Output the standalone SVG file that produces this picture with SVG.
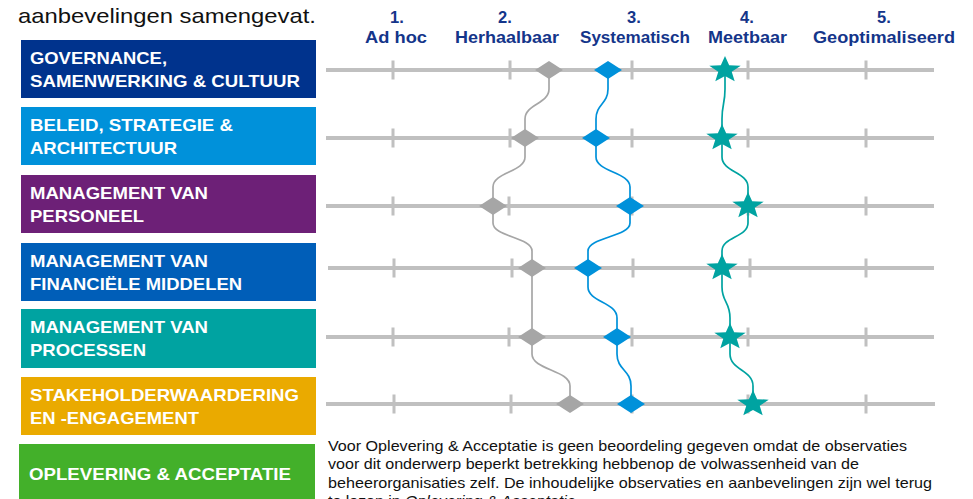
<svg xmlns="http://www.w3.org/2000/svg" xmlns:xlink="http://www.w3.org/1999/xlink" width="973" height="499" viewBox="0 0 973 499">
<style>
.title{font-family:"Liberation Sans",Arial,sans-serif;font-size:21px;fill:#111}
.hdr{font-family:"Liberation Sans",Arial,sans-serif;font-size:16.5px;font-weight:bold;fill:#14358A}
.num{font-family:"Liberation Sans",Arial,sans-serif;font-size:16.5px;font-weight:bold;fill:#14358A;text-anchor:middle}
.lbl{font-family:"Liberation Sans",Arial,sans-serif;font-size:17px;font-weight:bold;fill:#fff}
.para{font-family:"Liberation Sans",Arial,sans-serif;font-size:15px;fill:#111}
.row{stroke:#C0C0C0;stroke-width:4;fill:none}
.tick{stroke:#C0C0C0;stroke-width:3;fill:none}
.cg{stroke:#A6A6A6;stroke-width:1.7;fill:none}
.cb{stroke:#0091DA;stroke-width:1.7;fill:none}
.ct{stroke:#00A3A1;stroke-width:1.7;fill:none}
.dg{fill:#A6A6A6}
.db{fill:#0091DA}
.st{fill:#00A3A1}
</style>
<defs>
<path id="dia" d="M-14,0 L0,-9 L14,0 L0,9 Z"/>
<polygon id="star" points="0,-14 4.16,-4.85 15.71,-4.33 6.73,1.85 9.71,11.33 0,6 -9.71,11.33 -6.73,1.85 -15.71,-4.33 -4.16,-4.85"/>
</defs>

<text class="title" x="18" y="23" textLength="298" lengthAdjust="spacingAndGlyphs">aanbevelingen samengevat.</text>

<g id="header">
<text class="num" x="397" y="22.5">1.</text>
<text class="num" x="505" y="22.5">2.</text>
<text class="num" x="634" y="22.5">3.</text>
<text class="num" x="747" y="22.5">4.</text>
<text class="num" x="884" y="22.5">5.</text>
<text class="hdr" x="365" y="43" textLength="62" lengthAdjust="spacingAndGlyphs">Ad hoc</text>
<text class="hdr" x="455" y="43" textLength="104" lengthAdjust="spacingAndGlyphs">Herhaalbaar</text>
<text class="hdr" x="580" y="43" textLength="110" lengthAdjust="spacingAndGlyphs">Systematisch</text>
<text class="hdr" x="708" y="43" textLength="79" lengthAdjust="spacingAndGlyphs">Meetbaar</text>
<text class="hdr" x="813" y="43" textLength="142" lengthAdjust="spacingAndGlyphs">Geoptimaliseerd</text>
</g>

<g id="box-governance">
<rect x="21" y="40" width="295" height="58" fill="#00338D"/>
<text class="lbl" x="30" y="64" textLength="137" lengthAdjust="spacingAndGlyphs">GOVERNANCE,</text>
<text class="lbl" x="30" y="87" textLength="270" lengthAdjust="spacingAndGlyphs">SAMENWERKING &amp; CULTUUR</text>
</g>
<g id="box-beleid">
<rect x="21" y="107" width="295" height="58" fill="#0091DA"/>
<text class="lbl" x="30" y="131" textLength="203" lengthAdjust="spacingAndGlyphs">BELEID, STRATEGIE &amp;</text>
<text class="lbl" x="30" y="154" textLength="147" lengthAdjust="spacingAndGlyphs">ARCHITECTUUR</text>
</g>
<g id="box-personeel">
<rect x="21" y="175" width="295" height="58" fill="#6D2077"/>
<text class="lbl" x="30" y="199" textLength="178" lengthAdjust="spacingAndGlyphs">MANAGEMENT VAN</text>
<text class="lbl" x="30" y="222" textLength="114" lengthAdjust="spacingAndGlyphs">PERSONEEL</text>
</g>
<g id="box-financien">
<rect x="21" y="243" width="295" height="58" fill="#005EB8"/>
<text class="lbl" x="30" y="267" textLength="178" lengthAdjust="spacingAndGlyphs">MANAGEMENT VAN</text>
<text class="lbl" x="30" y="290" textLength="212" lengthAdjust="spacingAndGlyphs">FINANCIËLE MIDDELEN</text>
</g>
<g id="box-processen">
<rect x="21" y="309" width="295" height="59" fill="#00A3A1"/>
<text class="lbl" x="30" y="333" textLength="178" lengthAdjust="spacingAndGlyphs">MANAGEMENT VAN</text>
<text class="lbl" x="30" y="356" textLength="116" lengthAdjust="spacingAndGlyphs">PROCESSEN</text>
</g>
<g id="box-stakeholder">
<rect x="21" y="377" width="295" height="58" fill="#EAAA00"/>
<text class="lbl" x="30" y="401" textLength="269" lengthAdjust="spacingAndGlyphs">STAKEHOLDERWAARDERING</text>
<text class="lbl" x="30" y="424" textLength="169" lengthAdjust="spacingAndGlyphs">EN -ENGAGEMENT</text>
</g>
<g id="box-oplevering">
<rect x="19" y="444" width="296" height="65" fill="#43B02A"/>
<text class="lbl" x="29" y="480" textLength="262" lengthAdjust="spacingAndGlyphs">OPLEVERING &amp; ACCEPTATIE</text>
</g>

<g id="scales">
<path class="row" d="M326,70 H934 M326,138 H934 M326,206 H934 M328,268 H934 M326,337 H934 M326,404 H935"/>
<path class="tick" d="M393,60.5 v19 M510,60.5 v19 M632,60.5 v19 M748,60.5 v19 M866,60.5 v19
M393,128.5 v19 M510,128.5 v19 M632,128.5 v19 M748,128.5 v19 M866,128.5 v19
M393,196.5 v19 M509,196.5 v19 M632,196.5 v19 M748,196.5 v19 M866,196.5 v19
M394,258.5 v19 M512,258.5 v19 M633,258.5 v19 M750,258.5 v19 M866,258.5 v19
M393,327.5 v19 M509,327.5 v19 M632,327.5 v19 M748,327.5 v19 M866,327.5 v19
M394,394.5 v19 M511,394.5 v19 M632,394.5 v19 M748,394.5 v19 M866,394.5 v19"/>
</g>

<g id="connectors">
<path class="cg" d="M549,70 V89 C549,104 525,104 525,119 V138"/>
<path class="cg" d="M525,138 V157 C525,172 493,172 493,187 V206"/>
<path class="cg" d="M493,206 V223 C493,237 532,237 532,251 V268"/>
<path class="cg" d="M532,268 V337"/>
<path class="cg" d="M532,337 V354 C532,370 570,370 570,386 V404"/>
<path class="cb" d="M608,70 V89 C608,104 596,104 596,119 V138"/>
<path class="cb" d="M596,138 V157 C596,172 630,172 630,187 V206"/>
<path class="cb" d="M630,206 V223 C630,237 588,237 588,251 V268"/>
<path class="cb" d="M588,268 V287 C588,302 617,302 617,318 V337"/>
<path class="cb" d="M617,337 V354 C617,370 631,370 631,386 V404"/>
<path class="ct" d="M725,70 V89 C725,104 722,104 722,119 V138"/>
<path class="ct" d="M722,138 V157 C722,172 748,172 748,187 V206"/>
<path class="ct" d="M748,206 V223 C748,237 722,237 722,251 V268"/>
<path class="ct" d="M722,268 V287 C722,302 730,302 730,318 V337"/>
<path class="ct" d="M730,337 V354 C730,370 753,370 753,386 V404"/>
</g>

<g id="markers">
<use href="#dia" class="dg" x="549" y="70"/>
<use href="#dia" class="dg" x="525" y="138"/>
<use href="#dia" class="dg" x="493" y="206"/>
<use href="#dia" class="dg" x="532" y="268"/>
<use href="#dia" class="dg" x="532" y="337"/>
<use href="#dia" class="dg" x="570" y="404"/>
<use href="#dia" class="db" x="608" y="70"/>
<use href="#dia" class="db" x="596" y="138"/>
<use href="#dia" class="db" x="630" y="206"/>
<use href="#dia" class="db" x="588" y="268"/>
<use href="#dia" class="db" x="617" y="337"/>
<use href="#dia" class="db" x="631" y="404"/>
<use href="#star" class="st" x="725" y="70"/>
<use href="#star" class="st" x="722" y="138"/>
<use href="#star" class="st" x="748" y="206"/>
<use href="#star" class="st" x="722" y="268"/>
<use href="#star" class="st" x="730" y="337"/>
<use href="#star" class="st" x="753" y="404"/>
</g>

<g id="note">
<text class="para" x="328" y="451" textLength="579" lengthAdjust="spacingAndGlyphs">Voor Oplevering &amp; Acceptatie is geen beoordeling gegeven omdat de observaties</text>
<text class="para" x="328" y="469" textLength="531" lengthAdjust="spacingAndGlyphs">voor dit onderwerp beperkt betrekking hebbenop de volwassenheid van de</text>
<text class="para" x="328" y="488" textLength="604" lengthAdjust="spacingAndGlyphs">beheerorganisaties zelf. De inhoudelijke observaties en aanbevelingen zijn wel terug</text>
<text class="para" x="328" y="506" textLength="252" lengthAdjust="spacingAndGlyphs">te lezen in <tspan font-style="italic">Oplevering &amp; Acceptatie</tspan>.</text>
</g>
</svg>
